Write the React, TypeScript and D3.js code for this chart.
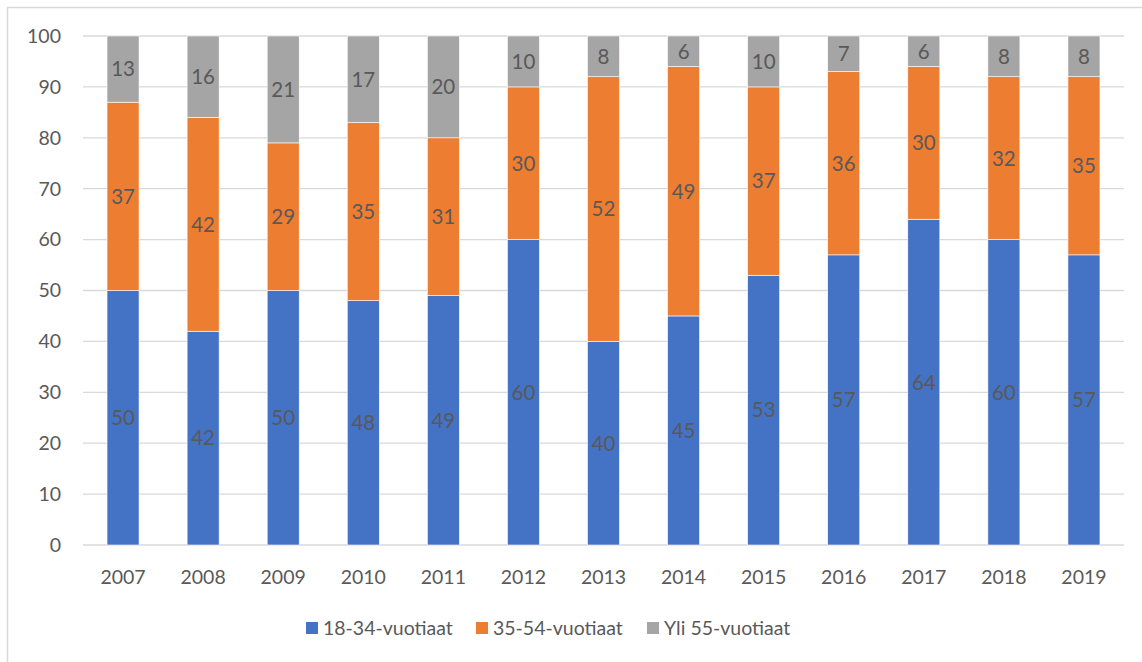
import React from 'react';
import * as d3 from 'd3';

const years = ['2007', '2008', '2009', '2010', '2011', '2012', '2013', '2014', '2015', '2016', '2017', '2018', '2019'];
const young = [50, 42, 50, 48, 49, 60, 40, 45, 53, 57, 64, 60, 57];
const middle = [37, 42, 29, 35, 31, 30, 52, 49, 37, 36, 30, 32, 35];
const older = [13, 16, 21, 17, 20, 10, 8, 6, 10, 7, 6, 8, 8];
const seriesNames = ['18-34-vuotiaat', '35-54-vuotiaat', 'Yli 55-vuotiaat'];
const yTicks = [0, 10, 20, 30, 40, 50, 60, 70, 80, 90, 100];

const colors = ['#4472C4', '#ED7D31', '#A5A5A5'];
const textColor = '#595959';
const font = 'Lato, "Open Sans", sans-serif';

const width = 1142;
const height = 662;
const margin = { top: 36, right: 18, bottom: 117, left: 83 };

const App: React.FC = () => {
  const x = d3
    .scaleBand()
    .domain(years)
    .range([margin.left, width - margin.right])
    .paddingInner(0.6)
    .paddingOuter(0.3);

  const y = d3
    .scaleLinear()
    .domain([0, 100])
    .range([height - margin.bottom, margin.top]);

  const rows = years.map((yr, i) => ({ year: yr, a: young[i], b: middle[i], c: older[i] }));
  const stack = d3.stack<{ year: string; a: number; b: number; c: number }>().keys(['a', 'b', 'c']);
  const layers = stack(rows);

  const legendX = [306, 476, 647];

  return (
    <svg width={width} height={height} style={{ position: 'absolute', left: 0, top: 0 }}>
      <rect x={0} y={0} width={width} height={height} fill="#fff" />
      <rect x={7.5} y={7.5} width={width + 10} height={height + 10} fill="none" stroke="#d9d9d9" strokeWidth={1.5} />
      {yTicks.map((t) => (
        <g key={t}>
          <line x1={margin.left} x2={width - margin.right} y1={y(t)} y2={y(t)} stroke="#d9d9d9" strokeWidth={1.3} />
          <text x={61} y={y(t)} dy="0.35em" textAnchor="end" fontSize={19.5} fill={textColor} fontFamily={font}>
            {t}
          </text>
        </g>
      ))}
      {layers.map((layer, li) => (
        <g key={li}>
          {layer.map((d, i) => {
            const x0 = x(years[i]) || 0;
            const top = y(d[1]);
            const bottom = y(d[0]);
            const val = d[1] - d[0];
            return (
              <g key={i}>
                <rect x={x0} y={top} width={x.bandwidth()} height={bottom - top} fill={colors[li]} stroke="#fff" strokeWidth={0.6} />
                <text
                  x={x0 + x.bandwidth() / 2}
                  y={(top + bottom) / 2}
                  dy="0.36em"
                  textAnchor="middle"
                  fontSize={20.5}
                  fill={textColor}
                  fontFamily={font}
                >
                  {val}
                </text>
              </g>
            );
          })}
        </g>
      ))}
      {years.map((yr) => (
        <text
          key={yr}
          x={(x(yr) || 0) + x.bandwidth() / 2}
          y={577}
          dy="0.35em"
          textAnchor="middle"
          fontSize={19.5}
          fill={textColor}
          fontFamily={font}
        >
          {yr}
        </text>
      ))}
      {seriesNames.map((name, i) => (
        <g key={name}>
          <rect x={legendX[i]} y={622} width={12} height={12} fill={colors[i]} />
          <text x={legendX[i] + 17} y={628} dy="0.35em" fontSize={19.5} fill={textColor} fontFamily={font}>
            {name}
          </text>
        </g>
      ))}
    </svg>
  );
};

export default App;
